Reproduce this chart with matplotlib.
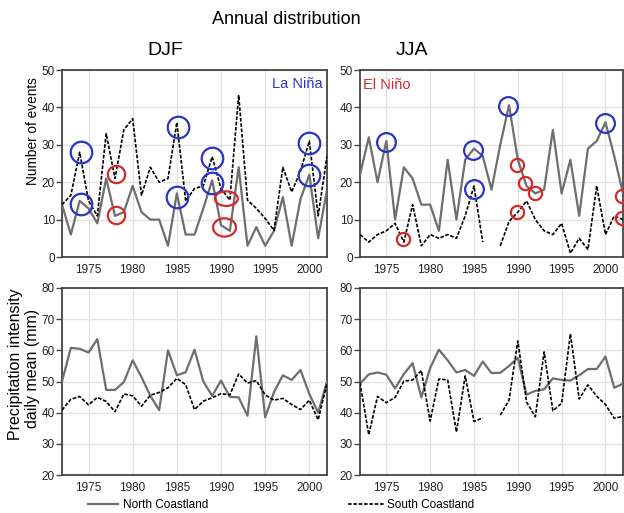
import numpy as np
import matplotlib
matplotlib.use("Agg")
import matplotlib.pyplot as plt
from matplotlib.patches import Ellipse
from matplotlib.lines import Line2D

plt.rcParams['font.family'] = ['Liberation Sans', 'DejaVu Sans']

years = np.arange(1972, 2003)

# number of events
djf_north = [14, 6, 15, 13, 9, 21, 11, 12, 19, 12, 10, 10, 3, 17, 6, 6, 13, 20.5, 8.5, 7,
             24, 3, 8, 3, 7, 16, 3, 15.5, 22, 5, 18]
djf_south = [14, 16.5, 28, 15, 11, 33, 21, 34, 37, 16.5, 24, 20, 21, 36, 15, 18.3, 19, 26.8,
             18.3, 15.2, 43.3, 15.2, 13, 10.3, 7.1, 24, 17.4, 23, 31, 11, 27]
jja_north = [22, 32, 20, 31, 10, 24, 21, 14, 14, 7, 26, 10, 26, 29, 27, 18, 30, 40.6, 26,
             19, 17, 18, 34, 17, 26, 11, 29, 31, 36, 27, 17]
jja_south = [6, 4, 6, 7, 9, 4, 14, 3, 6, 5, 6, 5, 11, 19, 4, np.nan, 3, 9.5, 12, 15, 10, 7,
             6, 9, 1, 5, 2, 19, 6, 11, 10]

# precipitation intensity, daily mean (mm)
djf_north_int = [50, 60.8, 60.5, 59.3, 63.6, 47.3, 47.3, 49.8, 56.8, 51.4, 45.4, 40.8, 60, 52,
                 53, 60.2, 50, 45.4, 50.3, 45.1, 44.9, 39, 64.5, 38.5, 46.6, 52, 50.5, 53.7,
                 46, 40, 50]
djf_south_int = [40.8, 44.3, 45.2, 42.5, 44.9, 43.6, 40.3, 46, 45.4, 42.1, 45.6, 46.5, 48,
                 51, 49, 41, 43.7, 44.8, 46.1, 45.7, 52.4, 49.5, 50.3, 45.7, 44, 44.6, 42.6,
                 41, 44, 37.7, 49.5]
jja_north_int = [49.3, 52.3, 52.9, 52.2, 47.8, 52.4, 55.9, 44.9, 54.3, 60.2, 56.8, 52.9, 53.7,
                 51.8, 56.4, 52.7, 52.8, 55, 57.6, 45.8, 47, 47.5, 51, 50.5, 50.3, 52, 54,
                 54, 58, 48, 49.3]
jja_south_int = [49.6, 32.9, 45.2, 43.2, 44.9, 50.1, 50.5, 53.5, 37.3, 50.8, 50.5, 33.8,
                 51.8, 37.2, 38.3, np.nan, 39.2, 44, 63, 43.4, 38.7, 59.5, 40.6, 43, 65.3,
                 44.4, 48.9, 45.3, 42.6, 38.2, 38.8]

# highlighted events (year, value)
djf_nina_x = [1974.1, 1974.2, 1985.1, 1985.0, 1989.0, 1989.0, 2000.0, 2000.0]
djf_nina_y = [28.1, 14.1, 34.8, 16.1, 26.4, 19.9, 30.4, 21.9]
djf_nino_x = [1978.1, 1978.1]
djf_nino_y = [22.1, 11.3]
djf_nino_ell_x = [1990.6, 1990.4]
djf_nino_ell_y = [15.6, 7.9]
jja_nina_x = [1974.95, 1984.9, 1985.0, 1988.9, 1999.9]
jja_nina_y = [30.8, 28.6, 18.3, 40.4, 35.9]
jja_nino_x = [1976.9, 1989.9, 1989.9, 1990.8, 1992.0, 2001.85, 2001.85]
jja_nino_y = [4.7, 24.5, 11.9, 19.8, 17.0, 16.2, 10.3]

GRAY = '#6e6e6e'
BLUE = '#2b35c4'
RED = '#d42a2a'
DASH = (0, (2.2, 1.0))

fig = plt.figure(figsize=(6.24, 5.13), dpi=100)
W, H = 624, 513


def add_ax(x0, x1, y0, y1):
    return fig.add_axes([x0 / W, 1 - y1 / H, (x1 - x0) / W, (y1 - y0) / H])


ax_djf = add_ax(62, 327, 70, 257)
ax_jja = add_ax(360, 623, 70, 257)
ax_djf_i = add_ax(62, 327, 288, 475)
ax_jja_i = add_ax(360, 623, 288, 475)

for ax, north, south in [(ax_djf, djf_north, djf_south), (ax_jja, jja_north, jja_south),
                         (ax_djf_i, djf_north_int, djf_south_int),
                         (ax_jja_i, jja_north_int, jja_south_int)]:
    ax.plot(years, north, color=GRAY, lw=1.6, zorder=3)
    ax.plot(years, south, color='black', lw=1.2, ls=DASH, zorder=4)
    ax.set_xlim(1972, 2002)
    ax.set_xticks(range(1975, 2001, 5))
    ax.grid(True, color='#e2e2e2', lw=1.0, zorder=0)
    ax.set_axisbelow(True)
    for s in ax.spines.values():
        s.set_color('#444444')
        s.set_linewidth(1.3)
    ax.tick_params(axis='x', length=0, pad=5, labelsize=8.5, colors='#222222')
    ax.tick_params(axis='y', length=4, width=1, pad=1, labelsize=8.5, colors='#222222')
    ax.tick_params(axis='y', color='#444444')

for ax in (ax_djf, ax_jja):
    ax.set_ylim(0, 50)
    ax.set_yticks(range(0, 51, 10))
for ax in (ax_djf_i, ax_jja_i):
    ax.set_ylim(20, 80)
    ax.set_yticks(range(20, 81, 10))

# circles
ax_djf.plot(djf_nina_x, djf_nina_y, 'o', mfc='none', mec=BLUE, mew=1.6, ms=15.5, zorder=5)
ax_djf.plot(djf_nino_x, djf_nino_y, 'o', mfc='none', mec=RED, mew=1.6, ms=12.5, zorder=5)
for (ex, ey), eh in zip(zip(djf_nino_ell_x, djf_nino_ell_y), [3.9, 4.9]):
    ax_djf.add_patch(Ellipse((ex, ey), 2.6, eh, fill=False, ec=RED, lw=1.6, zorder=5))
ax_jja.plot(jja_nina_x, jja_nina_y, 'o', mfc='none', mec=BLUE, mew=1.6, ms=13.5, zorder=5)
ax_jja.plot(jja_nino_x, jja_nino_y, 'o', mfc='none', mec=RED, mew=1.6, ms=9.5, zorder=5)

ax_djf.text(0.985, 0.962, 'La Niña', color=BLUE, fontsize=10.5, ha='right', va='top',
            transform=ax_djf.transAxes)
ax_jja.text(0.012, 0.957, 'El Niño', color=RED, fontsize=10.5, ha='left', va='top',
            transform=ax_jja.transAxes)

# titles and labels
fig.text(286 / W, 1 - 20 / H, 'Annual distribution', ha='center', va='center', fontsize=13)
fig.text(165 / W, 1 - 51 / H, 'DJF', ha='center', va='center', fontsize=14)
fig.text(412 / W, 1 - 51 / H, 'JJA', ha='center', va='center', fontsize=14)
fig.text(33 / W, 1 - 131 / H, 'Number of events', rotation=90, ha='center', va='center',
         fontsize=9.8)
fig.text(16 / W, 1 - 364 / H, 'Precipitation intensity', rotation=90, ha='center',
         va='center', fontsize=11.5)
fig.text(32 / W, 1 - 368 / H, 'daily mean (mm)', rotation=90, ha='center', va='center',
         fontsize=11.5)

# legend
h_n = Line2D([], [], color=GRAY, lw=1.6)
h_s = Line2D([], [], color='black', lw=1.2, ls=DASH)
fig.legend([h_n], ['North Coastland'], loc='center left',
           bbox_to_anchor=(88 / W, 1 - 505 / H), frameon=False, fontsize=8.5,
           handlelength=2.5, handletextpad=0.5, borderpad=0, borderaxespad=0)
fig.legend([h_s], ['South Coastland'], loc='center left',
           bbox_to_anchor=(348 / W, 1 - 505 / H), frameon=False, fontsize=8.5,
           handlelength=3.1, handletextpad=0.2, borderpad=0, borderaxespad=0)

fig.savefig('out.png', dpi=100)
